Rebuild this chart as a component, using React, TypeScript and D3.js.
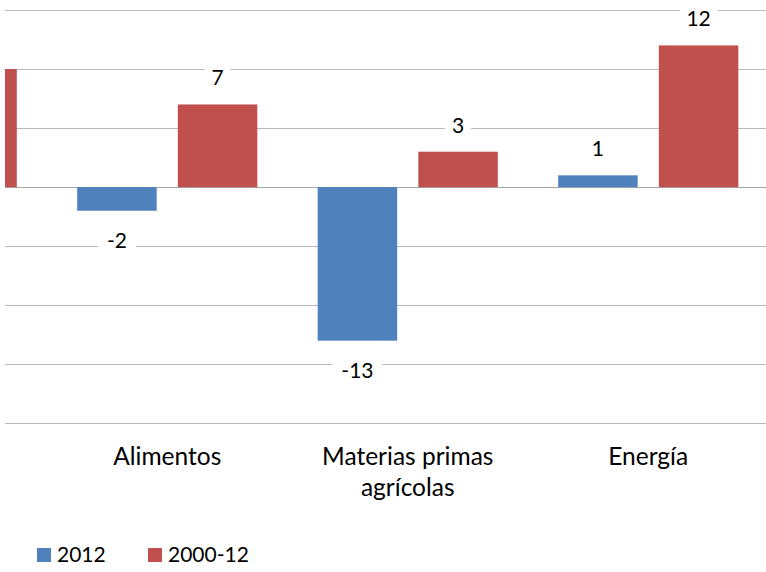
import { useEffect, useRef } from "react";
import * as d3 from "d3";

// first category sits mostly outside the visible frame (only its red bar edge shows)
const categories = ["Total", "Alimentos", "Materias primas agrícolas", "Energía"];
const categoryLines = [[], ["Alimentos"], ["Materias primas", "agrícolas"], ["Energía"]];
const seriesNames = ["2012", "2000-12"];
const values2012: (number | null)[] = [null, -2, -13, 1];
const values2000_12: (number | null)[] = [10, 7, 3, 12];
const yTicks = [-20, -15, -10, -5, 0, 5, 10, 15];

const colors = ["#4F81BD", "#C0504D"];
const FONT = "Lato, 'Open Sans', sans-serif";

export default function App() {
  const svgRef = useRef<SVGSVGElement | null>(null);

  useEffect(() => {
    if (!svgRef.current) return;
    const svg = d3.select(svgRef.current);
    svg.selectAll("*").remove();

    const width = 766;
    const height = 572;
    const plotLeft = 5;

    const x0 = d3
      .scaleBand<string>()
      .domain(categories)
      .range([-193.5, 768.5])
      .padding(0);
    const x1 = d3
      .scaleBand<string>()
      .domain(seriesNames)
      .range([0, x0.bandwidth()])
      .paddingInner(0.21)
      .paddingOuter(0.3);
    const y = d3.scaleLinear().domain([-20, 15]).range([423.3, 10]);

    const rows = categories.map((c, i) => ({
      category: c,
      values: [values2012[i], values2000_12[i]],
    }));

    svg
      .append("defs")
      .append("clipPath")
      .attr("id", "plot-clip")
      .append("rect")
      .attr("x", plotLeft)
      .attr("y", 0)
      .attr("width", width - plotLeft)
      .attr("height", height);

    // gridlines
    svg
      .append("g")
      .selectAll("line")
      .data(yTicks)
      .join("line")
      .attr("x1", plotLeft)
      .attr("x2", width)
      .attr("y1", (d) => Math.round(y(d)) + 0.5)
      .attr("y2", (d) => Math.round(y(d)) + 0.5)
      .attr("stroke", (d) => (d === 0 ? "#A6A6A6" : "#B8B8B8"))
      .attr("stroke-width", 1);

    const plot = svg.append("g").attr("clip-path", "url(#plot-clip)");

    const bars = rows.flatMap((r) =>
      r.values.map((v, si) => ({
        category: r.category,
        series: seriesNames[si],
        si,
        value: v,
      })),
    ).filter((d) => d.value !== null) as {
      category: string;
      series: string;
      si: number;
      value: number;
    }[];

    plot
      .selectAll("rect.bar")
      .data(bars)
      .join("rect")
      .attr("class", "bar")
      .attr("x", (d) => (x0(d.category) ?? 0) + (x1(d.series) ?? 0))
      .attr("width", x1.bandwidth())
      .attr("y", (d) => y(Math.max(0, d.value)))
      .attr("height", (d) => Math.abs(y(d.value) - y(0)))
      .attr("fill", (d) => colors[d.si]);

    // value labels
    const labels = plot
      .selectAll("g.vlabel")
      .data(bars.filter((d) => d.category !== "Total"))
      .join("g")
      .attr("class", "vlabel")
      .attr(
        "transform",
        (d) =>
          `translate(${(x0(d.category) ?? 0) + (x1(d.series) ?? 0) + x1.bandwidth() / 2},${
            d.value >= 0 ? y(d.value) - 19 : y(d.value) + 37
          })`,
      );
    labels
      .append("rect")
      .attr("x", (d) => -(String(d.value).length * 12 + 14) / 2)
      .attr("y", -20)
      .attr("width", (d) => String(d.value).length * 12 + 14)
      .attr("height", 26)
      .attr("fill", "#fff");
    labels
      .append("text")
      .attr("text-anchor", "middle")
      .attr("font-family", FONT)
      .attr("font-size", 21)
      .attr("fill", "#000")
      .text((d) => String(d.value));

    // category labels
    const cat = plot
      .selectAll("text.cat")
      .data(categories)
      .join("text")
      .attr("class", "cat")
      .attr("text-anchor", "middle")
      .attr("font-family", FONT)
      .attr("font-size", 24.5)
      .attr("fill", "#000")
      .attr("x", (d) => (x0(d) ?? 0) + x0.bandwidth() / 2)
      .attr("y", 465);
    cat
      .selectAll("tspan")
      .data((d, i) => categoryLines[i])
      .join("tspan")
      .attr("x", function () {
        return (this.parentNode as SVGTextElement).getAttribute("x");
      })
      .attr("dy", (d, i) => (i === 0 ? 0 : 31))
      .text((d) => d);

    // legend
    const legendX = [37, 148];
    const legend = svg
      .append("g")
      .selectAll("g")
      .data(seriesNames)
      .join("g")
      .attr("transform", (d, i) => `translate(${legendX[i]},548)`);
    legend
      .append("rect")
      .attr("width", 14)
      .attr("height", 14)
      .attr("fill", (d, i) => colors[i]);
    legend
      .append("text")
      .attr("x", 20)
      .attr("y", 14)
      .attr("font-family", FONT)
      .attr("font-size", 21)
      .attr("fill", "#000")
      .text((d) => d);
  }, []);

  return (
    <svg
      ref={svgRef}
      width={766}
      height={572}
      style={{ position: "absolute", left: 0, top: 0, background: "#fff" }}
    />
  );
}
